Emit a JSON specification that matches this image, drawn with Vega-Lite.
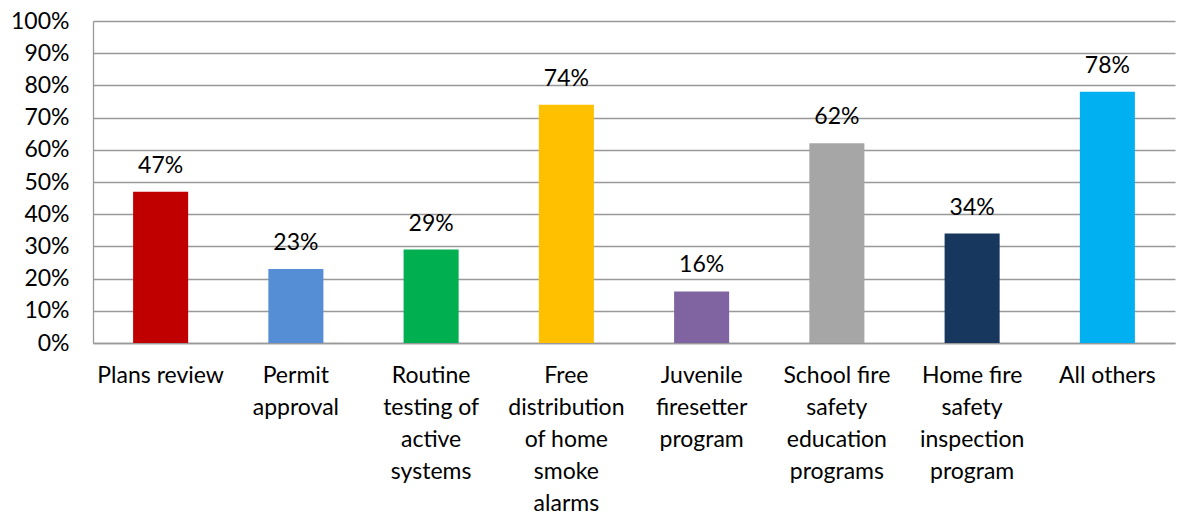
{
  "$schema": "https://vega.github.io/schema/vega-lite/v6.json",
  "width": 1082,
  "height": 322,
  "autosize": "none",
  "padding": {"left": 93, "top": 21, "right": 5, "bottom": 176},
  "background": "white",
  "config": {"view": {"stroke": null}, "font": "Lato"},
  "data": {"values": [
    {"cat": "Plans review", "v": 0.47, "color": "#C00000"},
    {"cat": "Permit|approval", "v": 0.23, "color": "#558ED5"},
    {"cat": "Routine|testing of|active|systems", "v": 0.29, "color": "#00B050"},
    {"cat": "Free|distribution|of home|smoke|alarms", "v": 0.74, "color": "#FFC000"},
    {"cat": "Juvenile|firesetter|program", "v": 0.16, "color": "#8064A2"},
    {"cat": "School fire|safety|education|programs", "v": 0.62, "color": "#A6A6A6"},
    {"cat": "Home fire|safety|inspection|program", "v": 0.34, "color": "#17375E"},
    {"cat": "All others", "v": 0.78, "color": "#00B0F0"}
  ]},
  "encoding": {
    "x": {"field": "cat", "type": "nominal", "sort": null,
      "scale": {"paddingInner": 0.593, "paddingOuter": 0.2965},
      "axis": {"title": null, "labelAngle": 0, "labelExpr": "split(datum.label, '|')",
        "labelFontSize": 23, "labelLineHeight": 32, "labelColor": "#000", "labelPadding": 21,
        "labelOverlap": false, "labelBound": false, "labelFlush": false, "labelLimit": 0, "labelBaseline": "top",
        "ticks": false, "domainColor": "#999", "domainWidth": 1.3, "labelFont": "Lato"}},
    "y": {"field": "v", "type": "quantitative",
      "scale": {"domain": [0, 1]},
      "axis": {"title": null, "format": ".0%", "values": [0,0.1,0.2,0.3,0.4,0.5,0.6,0.7,0.8,0.9,1],
        "labelFontSize": 23, "labelColor": "#000", "labelPadding": 24, "ticks": false,
        "labelOverlap": false, "labelBound": false, "labelFlush": false, "labelBaseline": "middle",
        "gridColor": "#999", "gridWidth": 1.3, "domainColor": "#999", "domainWidth": 1.3, "labelFont": "Lato"}}
  },
  "layer": [
    {"mark": {"type": "bar"},
     "encoding": {"color": {"field": "color", "type": "nominal", "scale": null, "legend": null}}},
    {"mark": {"type": "text", "baseline": "alphabetic", "dy": -19, "fontSize": 23, "color": "#000", "font": "Lato"},
     "encoding": {"text": {"field": "v", "type": "quantitative", "format": ".0%"}}}
  ]
}
